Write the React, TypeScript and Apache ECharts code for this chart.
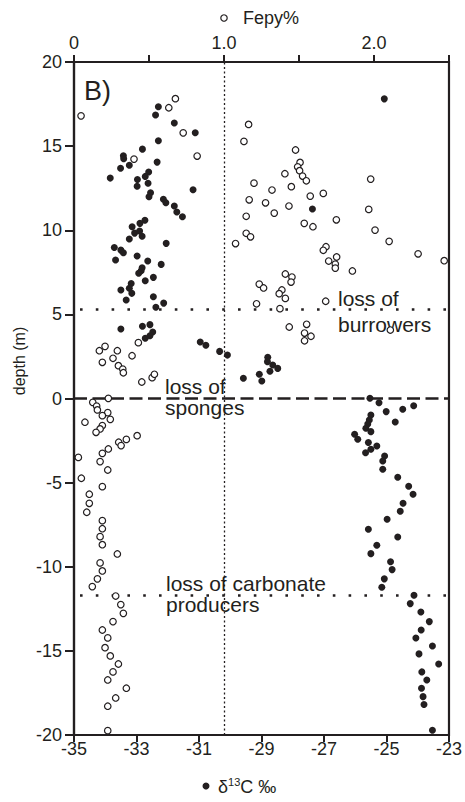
import React, { useEffect, useRef } from "react";
import * as echarts from "echarts";

// δ13C (‰) — filled circles, bottom axis
const d13cValues = [
  -32.30, -32.39, -31.79, -31.12, -32.30, -32.81, -33.42, -33.41, -32.34, -33.51,
  -33.23, -33.84, -32.61, -32.72, -32.97, -32.63, -32.98, -31.19, -32.55, -32.60,
  -32.14, -32.06, -31.79, -31.71, -31.53, -32.73, -32.89, -33.14, -33.06, -32.90,
  -32.82, -33.23, -32.05, -33.71, -33.50, -33.42, -33.67, -32.98, -32.64, -32.21,
  -32.82, -32.85, -32.93, -32.46, -32.72, -33.17, -33.23, -33.15, -33.50, -32.46,
  -33.33, -32.13, -32.38, -33.50, -32.81, -32.57, -32.48, -32.57, -32.72, -30.96,
  -30.78, -30.34, -30.09, -28.80, -28.81, -28.64, -28.48, -28.73, -29.07, -28.99,
  -29.58, -27.37, -25.07,
  -25.53, -25.24, -25.01, -24.48, -24.13, -25.50, -25.55, -25.60, -25.66, -25.50,
  -24.72, -26.02, -25.92, -25.58, -25.31, -25.50, -25.67, -25.06, -25.12, -25.12,
  -24.64, -24.29, -24.15, -24.47, -24.56, -24.98, -25.58, -24.64, -25.31, -25.50,
  -24.87, -24.82, -25.07, -25.15, -24.12, -24.24, -23.90, -23.63, -23.89, -24.06,
  -23.53, -23.96, -23.33, -23.87, -23.71, -23.88, -23.83, -23.80, -23.53,
];
const d13cDepths = [
  17.34, 16.85, 16.37, 15.79, 15.32, 14.82, 14.43, 14.25, 14.05, 13.68,
  13.86, 13.10, 13.46, 13.20, 13.02, 12.79, 12.61, 12.41, 12.23, 11.99,
  11.84, 11.64, 11.44, 11.08, 10.80, 10.59, 10.41, 10.21, 9.83, 9.95,
  9.64, 9.48, 9.22, 8.98, 8.82, 8.66, 8.23, 8.47, 8.17, 7.97,
  7.77, 7.59, 7.44, 7.20, 7.00, 6.84, 6.55, 6.25, 6.45, 6.05,
  5.85, 5.67, 5.42, 4.13, 4.29, 4.39, 3.95, 3.73, 3.58, 3.36,
  3.16, 2.80, 2.58, 2.45, 2.19, 1.99, 1.79, 1.62, 1.44, 1.04,
  1.20, 11.26, 17.81,
  0.01, -0.25, -0.78, -0.64, -0.43, -0.98, -1.28, -1.52, -1.77, -1.97,
  -1.40, -2.13, -2.42, -2.62, -2.82, -3.02, -3.22, -3.42, -3.71, -4.21,
  -4.68, -5.22, -5.69, -6.23, -6.70, -7.18, -7.77, -8.23, -8.72, -9.22,
  -9.70, -10.17, -10.72, -11.22, -11.69, -12.19, -12.69, -13.26, -13.76, -14.23,
  -14.71, -15.18, -15.78, -16.25, -16.73, -17.22, -17.72, -18.19, -19.72,
];

// Fepy (%) — open circles, top axis
const fepyValues = [
  0.047, 0.632, 0.676, 0.728, 0.821, 0.400, 0.429, 0.169, 0.207, 0.289,
  0.260, 0.189, 0.387, 0.296, 0.325, 0.329, 0.452, 0.521, 0.536, 0.229,
  1.164, 1.133, 1.477, 1.507, 1.491, 1.504, 1.524, 1.549, 1.406, 1.200,
  1.449, 1.320, 1.978, 1.168, 1.277, 1.575, 1.662, 1.433, 1.335, 1.148,
  1.965, 1.749, 1.535, 1.593, 2.007, 1.148, 1.177, 2.101, 1.077, 1.680,
  1.662, 2.294, 2.468, 1.751, 1.698, 1.742, 1.742, 1.856, 1.409, 1.453,
  1.447, 1.235, 1.264, 1.386, 1.368, 1.409, 1.217, 1.678, 1.373, 1.435,
  1.551, 1.537, 1.580, 1.537, 2.109,
  0.125, 0.151, 0.156, 0.225, 0.189, 0.242, 0.073, 0.189, 0.174, 0.147,
  0.421, 0.349, 0.298, 0.314, 0.229, 0.189, 0.174, 0.029, 0.225, 0.049,
  0.189, 0.102, 0.102, 0.085, 0.189, 0.189, 0.174, 0.189, 0.289, 0.174,
  0.189, 0.156, 0.122, 0.278, 0.312, 0.329, 0.260, 0.189, 0.225, 0.207,
  0.242, 0.296, 0.260, 0.225, 0.349, 0.278, 0.225, 0.225,
];
const fepyDepths = [
  16.80, 17.28, 17.82, 15.79, 14.41, 14.23, 3.32, 2.84, 3.10, 2.84,
  2.39, 2.15, 2.54, 1.95, 1.75, 1.53, 0.98, 1.24, 1.44, 0.01,
  16.29, 15.28, 14.77, 14.03, 13.77, 13.54, 13.22, 12.94, 13.36, 12.80,
  12.59, 12.39, 13.04, 11.81, 11.63, 12.03, 12.19, 11.44, 11.02, 10.83,
  11.24, 10.62, 10.41, 10.21, 10.01, 9.82, 9.61, 9.34, 9.21, 9.02,
  8.81, 8.60, 8.19, 8.41, 8.17, 7.99, 7.75, 7.58, 7.40, 7.22,
  6.92, 6.80, 6.57, 6.45, 6.23, 5.95, 5.63, 5.78, 5.34, 4.25,
  4.41, 3.89, 3.70, 3.43, 4.07,
  -0.23, -0.45, -0.68, -0.84, -1.02, -1.24, -1.41, -1.61, -1.81, -2.01,
  -2.21, -2.43, -2.60, -2.80, -3.00, -3.26, -3.75, -3.50, -4.25, -4.74,
  -5.24, -5.69, -6.23, -6.76, -7.26, -7.74, -8.21, -8.69, -9.24, -9.77,
  -10.25, -10.72, -11.18, -11.74, -12.25, -12.77, -13.26, -13.76, -14.23, -14.81,
  -15.30, -15.78, -16.25, -16.73, -17.22, -17.80, -18.29, -19.74,
];

const bottomTicks = [-35, -33, -31, -29, -27, -25, -23];
const topTickLabels = [0, 1, 2];
const dottedEventDepths = [5.3, -11.68];
const dashedEventDepth = 0;
const fepyReference = 1.0;

const INK = "#231f20";
const FONT = "'Liberation Sans', Arial, Helvetica, sans-serif";

export default function App() {
  const ref = useRef<HTMLDivElement>(null);

  useEffect(() => {
    document.body.style.margin = "0";
    const chart = echarts.init(ref.current!, null, { renderer: "svg" });

    const d13cData = d13cValues.map((v, i) => [v, d13cDepths[i]]);
    const fepyData = fepyValues.map((v, i) => [v, fepyDepths[i]]);

    const labelText = (x: number, y: number, text: string, size = 21) => ({
      type: "text",
      x,
      y,
      silent: true,
      style: {
        text,
        fill: INK,
        fontSize: size,
        fontFamily: FONT,
        align: "left",
        verticalAlign: "middle",
      },
    });

    chart.setOption({
      animation: false,
      backgroundColor: "#fff",
      grid: {
        left: 74,
        right: 16,
        top: 62,
        bottom: 67,
        show: true,
        borderColor: INK,
        borderWidth: 2.2,
        backgroundColor: "transparent",
      },
      xAxis: [
        {
          type: "value",
          position: "bottom",
          min: -35,
          max: -23,
          interval: 1,
          splitLine: { show: false },
          axisLine: { show: true, onZero: false, lineStyle: { color: INK, width: 2.2 } },
          axisTick: {
            show: true,
            length: 7,
            customValues: bottomTicks,
            lineStyle: { color: INK, width: 2 },
          },
          axisLabel: {
            customValues: bottomTicks,
            margin: 5,
            color: INK,
            fontSize: 18,
            fontFamily: FONT,
            formatter: (v: number) => String(v),
          },
        },
        {
          type: "value",
          position: "top",
          min: 0,
          max: 2.5,
          interval: 0.5,
          splitLine: { show: false },
          axisLine: { show: true, onZero: false, lineStyle: { color: INK, width: 2.2 } },
          axisTick: { show: true, length: 7, lineStyle: { color: INK, width: 2 } },
          axisLabel: {
            customValues: topTickLabels,
            margin: 10,
            color: INK,
            fontSize: 18,
            fontFamily: FONT,
            formatter: (v: number) => (v === 0 ? "0" : v.toFixed(1)),
          },
        },
      ],
      yAxis: {
        type: "value",
        min: -20,
        max: 20,
        interval: 5,
        splitLine: { show: false },
        axisLine: { show: true, onZero: false, lineStyle: { color: INK, width: 2.2 } },
        axisTick: { show: true, length: 9, lineStyle: { color: INK, width: 2 } },
        axisLabel: {
          margin: 12,
          color: INK,
          fontSize: 18,
          fontFamily: FONT,
        },
      },
      series: [
        {
          type: "scatter",
          name: "δ13C ‰",
          xAxisIndex: 0,
          yAxisIndex: 0,
          data: d13cData,
          symbol: "circle",
          symbolSize: 7,
          itemStyle: { color: INK, opacity: 1 },
          z: 3,
          markLine: {
            silent: true,
            symbol: "none",
            z: 1,
            label: { show: false },
            lineStyle: { color: INK, width: 2.6, type: [2.6, 13.2], dashOffset: -6 },
            data: dottedEventDepths.map((d) => ({ yAxis: d })),
          },
        },
        {
          type: "scatter",
          name: "Fepy%",
          xAxisIndex: 1,
          yAxisIndex: 0,
          data: fepyData,
          symbol: "circle",
          symbolSize: 6.5,
          itemStyle: { color: "#fff", borderColor: INK, borderWidth: 1.2, opacity: 1 },
          z: 4,
          markLine: {
            silent: true,
            symbol: "none",
            z: 1,
            label: { show: false },
            data: [
              {
                xAxis: fepyReference,
                lineStyle: { color: INK, width: 1.3, type: [2, 2.5] },
              },
              {
                yAxis: dashedEventDepth,
                lineStyle: { color: INK, width: 2.5, type: [13, 5.5] },
              },
            ],
          },
        },
      ],
      graphic: [
        {
          type: "circle",
          silent: true,
          shape: { cx: 224, cy: 18, r: 3.2 },
          style: { fill: "#fff", stroke: INK, lineWidth: 1.2 },
        },
        labelText(243, 18, "Fepy%", 18),
        {
          type: "circle",
          silent: true,
          shape: { cx: 206, cy: 786, r: 3.5 },
          style: { fill: INK },
        },
        {
          type: "text",
          x: 218,
          y: 786,
          silent: true,
          style: {
            text: "{a|δ}{s|13}{a|C ‰}",
            fill: INK,
            fontFamily: FONT,
            fontSize: 18,
            align: "left",
            verticalAlign: "middle",
            rich: {
              a: { fontSize: 18, fontFamily: FONT, fill: INK, lineHeight: 20, verticalAlign: "bottom" },
              s: { fontSize: 11, fontFamily: FONT, fill: INK, lineHeight: 20, verticalAlign: "top" },
            },
          },
        },
        {
          type: "text",
          x: 19,
          y: 361,
          rotation: Math.PI / 2,
          silent: true,
          style: {
            text: "depth (m)",
            fill: INK,
            fontSize: 16,
            fontFamily: FONT,
            align: "center",
            verticalAlign: "middle",
          },
        },
        labelText(84, 91, "B)", 27),
        labelText(338, 298, "loss of"),
        labelText(338, 324, "burrowers"),
        labelText(165, 386, "loss of"),
        labelText(165, 407, "sponges"),
        labelText(166, 583, "loss of carbonate"),
        labelText(166, 604.5, "producers"),
      ],
    });

    return () => chart.dispose();
  }, []);

  return (
    <div
      ref={ref}
      style={{ position: "absolute", left: 0, top: 0, width: 465, height: 802 }}
    />
  );
}
